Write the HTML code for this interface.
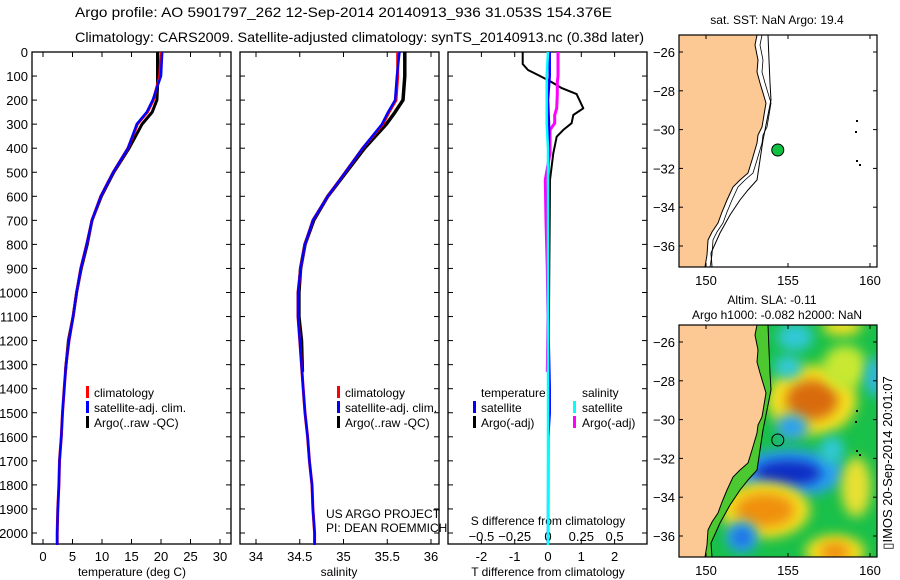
<!DOCTYPE html>
<html><head><meta charset="utf-8"><style>
body{margin:0;background:#fff;}
svg{display:block;font-family:"Liberation Sans",sans-serif;}
</style></head><body>
<svg id="c" width="900" height="580" viewBox="0 0 900 580">
<defs>
<filter id="bl" x="-50%" y="-50%" width="200%" height="200%"><feGaussianBlur stdDeviation="6"/></filter>
<clipPath id="clipTop"><rect x="679" y="35" width="198" height="232"/></clipPath>
<clipPath id="clipBot"><rect x="679" y="325" width="198" height="232"/></clipPath>
</defs>
<text x="75" y="17" font-size="14" textLength="537" lengthAdjust="spacingAndGlyphs">Argo profile: AO 5901797_262 12-Sep-2014 20140913_936 31.053S 154.376E</text>
<text x="75" y="42" font-size="14" textLength="569" lengthAdjust="spacingAndGlyphs">Climatology: CARS2009. Satellite-adjusted climatology: synTS_20140913.nc (0.38d later)</text>
<g id="p1"></g>
<g id="p2"></g>
<g id="p3"></g>
<g id="m1"></g>
<g id="m2"></g>
<text transform="translate(892,463) rotate(-90)" font-size="13" text-anchor="middle">▯IMOS 20-Sep-2014 20:01:07</text>
</svg>
<script>
const climDepth=[0,100,200,250,300,400,500,600,700,800,900,1000,1100,1200,1300,1400,1500,1600,1700,1800,1900,2000,2050];
const climT=[20.0,19.8,18.7,17.7,16.0,14.4,11.9,9.8,8.3,7.4,6.4,5.7,5.1,4.4,3.9,3.6,3.3,3.1,2.8,2.7,2.5,2.4,2.4];
const satT=[20.2,20.0,18.6,17.6,15.9,14.4,11.9,9.8,8.3,7.4,6.4,5.7,5.1,4.4,3.9,3.6,3.3,3.1,2.8,2.7,2.5,2.4,2.4];
const climS=[35.62,35.62,35.60,35.52,35.45,35.22,35.02,34.82,34.65,34.56,34.51,34.48,34.48,34.50,34.52,34.54,34.56,34.59,34.61,34.64,34.65,34.67,34.67];
const satS=[35.64,35.61,35.59,35.51,35.44,35.22,35.02,34.82,34.65,34.56,34.51,34.48,34.48,34.50,34.52,34.54,34.56,34.59,34.61,34.64,34.65,34.67,34.67];
const argoDepth=[0,50,100,150,200,250,300,400,500,600,700,800,900,1000,1100,1200,1330];
const argoT=[19.4,19.4,19.4,19.4,19.3,18.5,16.8,14.6,12.0,9.9,8.3,7.5,6.5,5.7,5.1,4.3,3.8];
const argoS=[35.70,35.70,35.70,35.69,35.68,35.59,35.49,35.24,35.03,34.82,34.66,34.56,34.51,34.49,34.49,34.52,34.53];
const diffDepth=[0,50,75,100,125,150,175,234,262,296,324,352,421,532,700,900,1100,1330];
const argoTdiff=[-0.76,-0.76,-0.6,-0.24,0.11,0.41,0.86,1.06,0.76,0.71,0.46,0.26,0.16,0.06,0.05,0.04,0.03,0.0];
const argoSdiff=[0.075,0.075,0.075,0.075,0.07,0.07,0.07,0.065,0.05,0.05,0.015,0.015,0.015,-0.02,-0.015,-0.005,0.0,-0.005];
const satDiffDepth=[0,100,200,300,400,600,800,1000,1200,1400,1500,1600,2050];
const satTdiff=[0.05,0.05,0.0,0.03,0.02,0.0,0.01,0.0,0.02,0.05,0.05,0.01,0.0];
const satSdiff=[0.0,-0.01,-0.01,-0.01,0.0,0.0,0.0,0.0,0.0,0.0,0.0,0.0,0.0];
const depthTicks=[0,100,200,300,400,500,600,700,800,900,1000,1100,1200,1300,1400,1500,1600,1700,1800,1900,2000];
const tTicks=[0,5,10,15,20,25,30];
const sTicks=[34,34.5,35,35.5,36];
const dTTicks=[-2,-1,0,1,2];
const dSTicks=[-0.5,-0.25,0,0.25,0.5];
const latTicks=[-26,-28,-30,-32,-34,-36];
const lonTicks=[150,155,160];

const NS='http://www.w3.org/2000/svg';
function mk(parent,tag,attrs,txt){const e=document.createElementNS(NS,tag);for(const k in attrs)e.setAttribute(k,attrs[k]);if(txt!==undefined)e.textContent=txt;parent.appendChild(e);return e;}
const yD=d=>52+0.2405*d;
const xT=t=>43+5.9*t;
const xS=s=>256+87.5*(s-34);
const xDT=t=>548+33.3*t;
const xDS=s=>548+133.2*s;
const PT=52,PB=544;

function frame(g,x0,x1,showDepth){
  const r=mk(g,'rect',{x:x0,y:PT,width:x1-x0,height:PB-PT,fill:'none',stroke:'#000','stroke-width':1.3});
  
  
  depthTicks.forEach(d=>{
    mk(g,'line',{x1:x0,x2:x0+5,y1:yD(d),y2:yD(d),stroke:'#000'});
    mk(g,'line',{x1:x1-5,x2:x1,y1:yD(d),y2:yD(d),stroke:'#000'});
    if(showDepth){const t=mk(g,'text',{x:28,y:yD(d)+5,'font-size':13,'text-anchor':'end'},String(d));
      
      }
  });
}
function xticks(g,vals,fx,y,labels,top){
  vals.forEach((v,i)=>{const x=fx(v);
    mk(g,'line',{x1:x,x2:x,y1:PB-5,y2:PB,stroke:'#000'});
    if(top)mk(g,'line',{x1:x,x2:x,y1:PT,y2:PT+5,stroke:'#000'});
    const t=mk(g,'text',{x:x,y:y,'font-size':13,'text-anchor':'middle'},labels?labels[i]:String(v));
    
    
  });
}
function line(g,xs,ds,fx,color,w,name){
  let p='';xs.forEach((v,i)=>{p+=(i?'L':'M')+fx(v).toFixed(1)+','+yD(ds[i]).toFixed(1);});
  const e=mk(g,'path',{d:p,fill:'none',stroke:color,'stroke-width':w,'stroke-linejoin':'round'});
  
  
}
function legend(g,x,items){
  items.forEach((it,i)=>{const y=397+15*i;
    mk(g,'rect',{x:x,y:y-11,width:3,height:12,fill:it[0]});
    const t=mk(g,'text',{x:x+8,y:y,'font-size':12},it[1]);
    
    
  });
}
const p1=document.getElementById('p1');
frame(p1,32,231,true);
xticks(p1,tTicks,xT,561,null,true);
line(p1,argoT,argoDepth,xT,'#000',3,'argo-temperature-line');
line(p1,climT,climDepth,xT,'#f00',3,'climatology-temperature-line');
line(p1,satT,climDepth,xT,'#00f',2.5,'satellite-temperature-line');
mk(p1,'text',{x:132,y:576,'font-size':12,'text-anchor':'middle'},'temperature (deg C)');
legend(p1,86,[['#f00','climatology'],['#00f','satellite-adj. clim.'],['#000','Argo(..raw -QC)']]);
const p2=document.getElementById('p2');
frame(p2,240,439,false);
xticks(p2,sTicks,xS,561,null,true);
line(p2,argoS,argoDepth,xS,'#000',3.5,'argo-salinity-line');
line(p2,climS,climDepth,xS,'#f00',3,'climatology-salinity-line');
line(p2,satS,climDepth,xS,'#00f',2.5,'satellite-salinity-line');
mk(p2,'text',{x:339,y:576,'font-size':12,'text-anchor':'middle'},'salinity');
legend(p2,337,[['#f00','climatology'],['#00f','satellite-adj. clim.'],['#000','Argo(..raw -QC)']]);
mk(p2,'text',{x:326,y:518,'font-size':12},'US ARGO PROJECT');
mk(p2,'text',{x:326,y:532,'font-size':12},'PI: DEAN ROEMMICH');
const p3=document.getElementById('p3');
frame(p3,448,647,false);
xticks(p3,dTTicks,xDT,561,null,true);
dSTicks.forEach(v=>{const t=mk(p3,'text',{x:xDS(v),y:541,'font-size':13,'text-anchor':'middle'},v===0?'0':String(v).replace('-','\u2212'));
  
  });
mk(p3,'text',{x:548,y:525,'font-size':12,'text-anchor':'middle'},'S difference from climatology');
mk(p3,'text',{x:548,y:576,'font-size':12,'text-anchor':'middle'},'T difference from climatology');
line(p3,argoTdiff,diffDepth,xDT,'#000',2,'argo-t-diff-line');
line(p3,argoSdiff,diffDepth,xDS,'#f0f',3,'argo-s-diff-line');
line(p3,satTdiff,satDiffDepth,xDT,'#00f',2.5,'satellite-t-diff-line');
line(p3,satSdiff,satDiffDepth,xDS,'#0ff',2.5,'satellite-s-diff-line');
[['temperature',481,397],['salinity',582,397],['satellite',481,412],['Argo(-adj)',481,427],['satellite',582,412],['Argo(-adj)',582,427]].forEach(a=>{
  const t=mk(p3,'text',{x:a[1],y:a[2],'font-size':12},a[0]);
  
  });
[['#00f',473,412],['#000',473,427],['#0ff',573,412],['#f0f',573,427]].forEach(a=>mk(p3,'rect',{x:a[1],y:a[2]-11,width:3,height:12,fill:a[0]}));

const lonX=l=>706+16.4*(l-150);
const coast=[[757,35],[755,45],[758,60],[757,72],[760,83],[766,103],[764,115],[762,127],[758,135],[757,143],[752,160],[748,173],[740,180],[733,187],[727,200],[722,212],[718,223],[712,232],[708,240],[707,255],[705,267]];
const shelf=[[768,35],[769,60],[770,83],[771,100],[767,120],[763,140],[760,160],[757,180],[748,190],[740,200],[730,215],[720,233],[711,253],[712,267]];
function map(g,top,clip,bottom){
  const latY=la=>top+17+19.4*(-26-la);
  const c=mk(g,'g',{'clip-path':'url(#'+clip+')'});
  const sh=p=>p.map(q=>q[0]+','+(q[1]+top-35)).join(' ');
  if(bottom){
    mk(c,'rect',{x:679,y:top,width:198,height:232,fill:'#19c04a'});
    const blobs=[[812,400,45,35,'#f5e020'],[812,400,26,20,'#d96a10'],[790,473,55,24,'#2aa0f0'],[788,473,34,13,'#0b2cc4'],[765,510,45,28,'#f5e020'],[765,510,30,17,'#f09010'],[742,537,16,16,'#2aa0f0'],[742,537,8,8,'#1a60e0'],[835,552,30,17,'#f5e020'],[835,552,15,10,'#f09010'],[856,487,15,30,'#e8e030'],[792,427,16,13,'#2aa0f0'],[795,337,18,14,'#30c8d8'],[788,367,14,12,'#30c8d8'],[842,326,20,10,'#f0e020'],[845,367,22,22,'#c8e830'],[875,377,10,20,'#30b8e0'],[832,450,12,14,'#30c8d8']];
    blobs.forEach(b=>{const e=mk(c,'ellipse',{cx:b[0],cy:b[1],rx:b[2],ry:b[3],fill:b[4],filter:'url(#bl)'});
      
      });
    mk(c,'polygon',{points:sh(coast.concat(shelf.slice().reverse())),fill:'#4cc830'});
  } else {
    mk(c,'rect',{x:679,y:top,width:198,height:232,fill:'#fff'});
  }
  const land=mk(c,'polygon',{points:sh([[679,35]].concat(coast,[[679,267]])),fill:'#fcc994',stroke:'#000','stroke-width':1});
  
  
  mk(c,'polyline',{points:sh(shelf),fill:'none',stroke:'#000','stroke-width':1});
  if(!bottom)mk(c,'polyline',{points:sh(coast.map(q=>[q[0]+5,q[1]])),fill:'none',stroke:'#000','stroke-width':0.8});
  [[856,120],[855,131],[856,160],[859,164]].forEach(q=>mk(c,'rect',{x:q[0],y:q[1]+top-35,width:2,height:2,fill:'#000'}));
  mk(g,'rect',{x:679,y:top,width:198,height:232,fill:'none',stroke:'#000','stroke-width':1.2});
  latTicks.forEach(la=>{const y=latY(la);
    mk(g,'line',{x1:679,x2:683,y1:y,y2:y,stroke:'#000'});mk(g,'line',{x1:873,x2:877,y1:y,y2:y,stroke:'#000'});
    const t=mk(g,'text',{x:675,y:y+5,'font-size':13,'text-anchor':'end'},String(la).replace('-','\u2212'));
    
    });
  lonTicks.forEach(lo=>{const x=lonX(lo);
    mk(g,'line',{x1:x,x2:x,y1:top,y2:top+4,stroke:'#000'});mk(g,'line',{x1:x,x2:x,y1:top+228,y2:top+232,stroke:'#000'});
    const t=mk(g,'text',{x:x,y:top+250,'font-size':13,'text-anchor':'middle'},String(lo));
    
    });
  const pt=mk(g,'circle',{cx:lonX(154.376),cy:latY(-31.053),r:6,fill:bottom?'none':'#10c040',stroke:'#000','stroke-width':1});
  
  
}
const m1=document.getElementById('m1');map(m1,35,'clipTop',false);
mk(m1,'text',{x:777,y:24,'font-size':12,'text-anchor':'middle'},'sat. SST: NaN Argo: 19.4');
const m2=document.getElementById('m2');map(m2,325,'clipBot',true);
mk(m2,'text',{x:772,y:304,'font-size':12,'text-anchor':'middle'},'Altim. SLA: -0.11');
mk(m2,'text',{x:777,y:319,'font-size':12,'text-anchor':'middle'},'Argo h1000: -0.082 h2000: NaN');
</script>
</body></html>
